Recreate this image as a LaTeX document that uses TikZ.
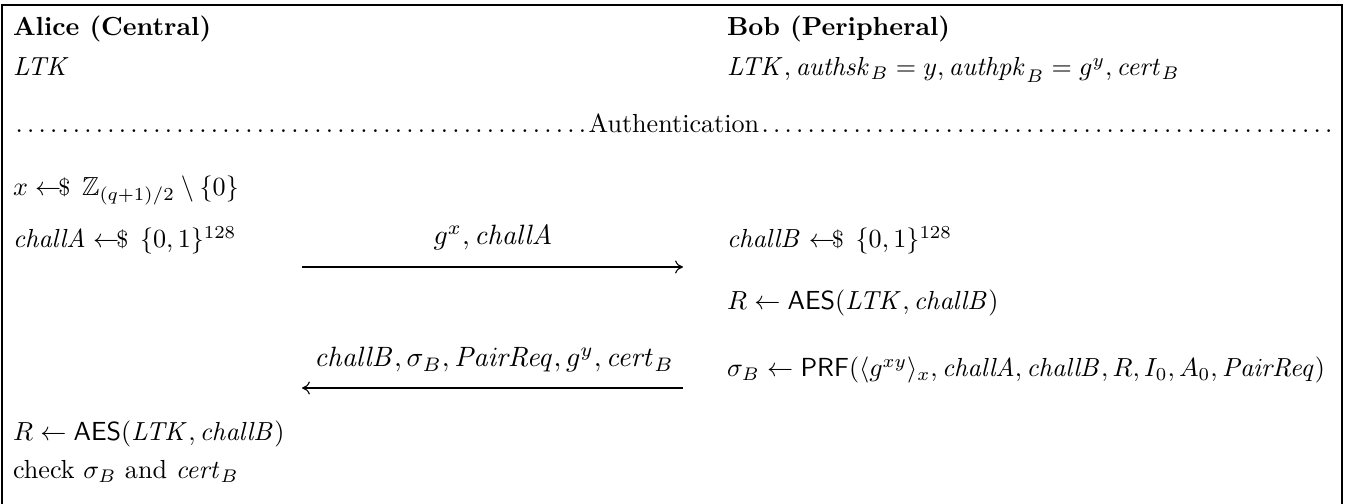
\documentclass[tikz,border=0pt]{standalone}
\usepackage{amsmath,amssymb,graphicx}
\usetikzlibrary{arrows.meta}
% random sampling arrow
\newcommand{\smp}{\mathrel{\leftarrow\mkern-7mu\mbox{\small\$}\mkern3mu}}
\begin{document}
\begin{tikzpicture}[x=0.3827pt,y=-0.3827pt,
  txt/.style={anchor=base west,inner sep=0pt,outer sep=0pt},
  lbl/.style={anchor=base,inner sep=0pt,outer sep=0pt},
  msg/.style={-{To[length=3pt,width=5pt]},line width=0.4pt}]
\useasboundingbox (0,0) rectangle (1353,504);
% open frame
\draw[line width=0.6pt] (2,504) -- (2,5) -- (1342,5) -- (1342,504);

% parties
\node[txt] (ahead) at (13,36) {\textbf{Alice (Central)}};
\node[txt] (bhead) at (727,36) {\textbf{Bob (Peripheral)}};
\node[txt] (aknow) at (13,76) {$\mathit{LTK}$};
\node[txt] (bknow) at (727,76) {$\mathit{LTK}, \mathit{authsk}_B = y, \mathit{authpk}_B = g^y, \mathit{cert}_B$};

% phase separator
\node[txt] (phase) at (13,133) {\makebox[505.9pt]{\dotfill Authentication\dotfill}};

% Alice, first steps
\node[txt] (a1) at (13,196) {$x \smp \mathbb{Z}_{(q+1)/2} \setminus \{0\}$};
\node[txt] (a2) at (13,248) {$\mathit{challA} \smp \{0,1\}^{128}$};

% Bob
\node[txt] (b1) at (727,248) {$\mathit{challB} \smp \{0,1\}^{128}$};
\node[txt] (b2) at (727,310) {$R \gets \mathsf{AES}(\mathit{LTK}, \mathit{challB})$};
\node[txt] (b3) at (727,377) {$\sigma_B \gets \mathsf{PRF}(\langle g^{xy}\rangle_x, \mathit{challA}, \mathit{challB}, R, I_0, A_0, \mathit{PairReq})$};

% Alice, final steps
\node[txt] (a3) at (13,441) {$R \gets \mathsf{AES}(\mathit{LTK}, \mathit{challB})$};
\node[txt] (a4) at (13,479) {check $\sigma_B$ and $\mathit{cert}_B$};

% messages
\coordinate (m1s) at (302,267);
\coordinate (m1e) at (683,267);
\draw[msg] (m1s) -- (m1e);
\node[lbl] (m1) at (493,245) {\scalebox{1.07}{$g^x, \mathit{challA}$}};

\coordinate (m2s) at (683,388);
\coordinate (m2e) at (302,388);
\draw[msg] (m2s) -- (m2e);
\node[lbl] (m2) at (494,367) {\scalebox{1.07}{$\mathit{challB}, \sigma_B, \mathit{PairReq}, g^y, \mathit{cert}_B$}};
\end{tikzpicture}
\end{document}
